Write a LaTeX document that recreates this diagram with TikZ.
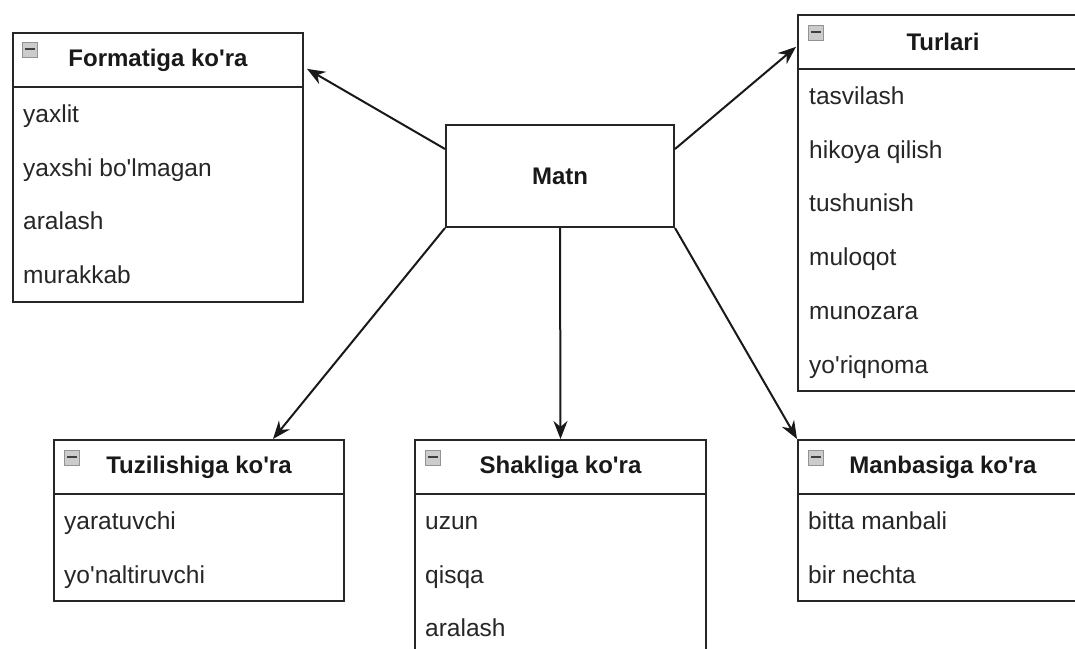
\documentclass[tikz,border=0pt]{standalone}
\usepackage{fontspec}
\setmainfont{Liberation Sans}
\usetikzlibrary{arrows.meta}
\newcommand{\ap}{\textquotesingle}
\begin{document}
\begin{tikzpicture}[x=1pt,y=-1pt,
  frame/.style={draw=black!85, line width=2pt, rectangle, minimum width=290pt, inner sep=0pt, anchor=north west},
  hdr/.style={frame, minimum height=53.7pt, font=\fontsize{24}{28}\selectfont\bfseries, text=black!90},
  item/.style={anchor=base west, inner sep=0pt, font=\fontsize{24.5}{28}\selectfont, text=black!85},
  icon/.style={draw=gray!85, fill=gray!40, minimum width=15pt, minimum height=15pt, inner sep=0pt, line width=0.9pt,
    path picture={\draw[black!75, line width=2.2pt] ([xshift=2.5pt,yshift=1pt]path picture bounding box.west) -- ([xshift=-2.5pt,yshift=1pt]path picture bounding box.east);}},
  central/.style={draw=black!85, line width=2pt, rectangle, minimum width=228pt, minimum height=102pt, inner sep=0pt, font=\fontsize{24}{28}\selectfont\bfseries, text=black!90},
  arr/.style={-{Stealth[length=18pt,width=14pt]}, line width=2pt, draw=black!90}]
\useasboundingbox (0,0) rectangle (1075,648);
\clip (0,0) rectangle (1075,648);
\fill[white] (0,0) rectangle (1075,648);

% central node
\node[central] (matn) at (560,176) {Matn};

% Formatiga ko'ra
\node[frame, minimum height=268.5pt] (fmt) at (12,32) {};
\node[hdr] (fmth) at (12,32) {Formatiga ko\ap ra};
\node[icon] (fmti) at ([xshift=18pt,yshift=-18pt]fmth.north west) {};
\node[item] (fmt1) at (23,122.5) {yaxlit};
\node[item] (fmt2) at (23,176.2) {yaxshi bo\ap lmagan};
\node[item] (fmt3) at (23,229.9) {aralash};
\node[item] (fmt4) at (23,283.6) {murakkab};

% Turlari
\node[frame, minimum height=375.9pt] (tur) at (797,14) {};
\node[hdr] (turh) at (797,14) {Turlari};
\node[icon] (turi) at ([xshift=19pt,yshift=-19pt]turh.north west) {};
\node[item] (tur1) at (809,104.5) {tasvilash};
\node[item] (tur2) at (809,158.2) {hikoya qilish};
\node[item] (tur3) at (809,211.9) {tushunish};
\node[item] (tur4) at (809,265.6) {muloqot};
\node[item] (tur5) at (809,319.3) {munozara};
\node[item] (tur6) at (809,373.0) {yo\ap riqnoma};

% Tuzilishiga ko'ra
\node[frame, minimum height=161.1pt] (tuz) at (53,439) {};
\node[hdr] (tuzh) at (53,439) {Tuzilishiga ko\ap ra};
\node[icon] (tuzi) at ([xshift=19pt,yshift=-19pt]tuzh.north west) {};
\node[item] (tuz1) at (64,529.5) {yaratuvchi};
\node[item] (tuz2) at (64,583.2) {yo\ap naltiruvchi};

% Shakliga ko'ra
\node[frame, minimum height=214.8pt, minimum width=291pt] (sha) at (414,439) {};
\node[hdr, minimum width=291pt] (shah) at (414,439) {Shakliga ko\ap ra};
\node[icon] (shai) at ([xshift=19pt,yshift=-19pt]shah.north west) {};
\node[item] (sha1) at (425,529.5) {uzun};
\node[item] (sha2) at (425,583.2) {qisqa};
\node[item] (sha3) at (425,636.9) {aralash};

% Manbasiga ko'ra
\node[frame, minimum height=161.1pt] (man) at (797,439) {};
\node[hdr] (manh) at (797,439) {Manbasiga ko\ap ra};
\node[icon] (mani) at ([xshift=19pt,yshift=-19pt]manh.north west) {};
\node[item] (man1) at (808,529.5) {bitta manbali};
\node[item] (man2) at (808,583.2) {bir nechta};

% connectors
\draw[arr] ([yshift=27pt]matn.west) -- ([xshift=3pt,yshift=-9pt]fmth.east);
\draw[arr] ([yshift=27pt]matn.east) -- ([xshift=-1pt,yshift=-5pt]turh.west);
\draw[arr] (matn.south west) -- ([xshift=74pt]tuzh.north);
\draw[arr] (matn.south) -- (shah.north);
\draw[arr] (matn.south east) -- (manh.north west);
\end{tikzpicture}
\end{document}
